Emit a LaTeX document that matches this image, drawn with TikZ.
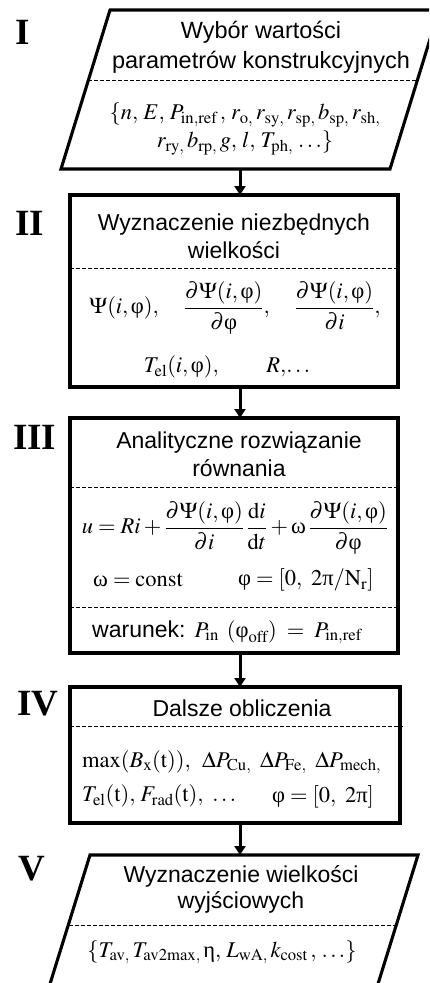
\documentclass[tikz,border=0pt]{standalone}
\usepackage{mathptmx}
\usepackage[no-math]{fontspec}
\setmainfont{Liberation Sans}
\newfontfamily\tm{Liberation Serif}
\usetikzlibrary{arrows.meta}

% upright Greek letters taken from the serif text font
\newcommand\gr[1]{\mbox{\tm #1}}
\newcommand\vphi{\gr{φ}}
\newcommand\om{\gr{ω}}
\newcommand\uppi{\gr{π}}
\newcommand\ueta{\gr{η}}

\tikzset{
  frame/.style={line width=3.1pt, line join=miter},
  sep/.style={line width=0.8pt, dash pattern=on 4pt off 2pt},
  flow/.style={line width=3pt, -{Triangle[length=9pt,width=11pt]}},
  heading/.style={font=\fontsize{23}{28}\selectfont, align=center, inner sep=0pt},
  mathrow/.style={font=\fontsize{22.5}{28}\selectfont, align=center, inner sep=0pt},
  numeral/.style={font=\fontsize{37}{40}\selectfont\tm\bfseries, anchor=west, inner sep=0pt}
}

\begin{document}
\begin{tikzpicture}[x=1pt,y=-1pt]
\path[use as bounding box] (0,0) rectangle (429,983);
\clip (0,0) rectangle (429,983);

% ---------- I: input parallelogram ----------
\draw[frame] (110,10) -- (439,10) -- (390,169) -- (61,169) -- cycle;
\draw[sep] (88,80) -- (418,80);
\node[numeral] (nI) at (15,32) {I};
\node[heading, font=\fontsize{23.5}{30}\selectfont] (tI) at (261,47) {Wybór wartości\\parametrów konstrukcyjnych};
\node[mathrow] (fI) at (245,129)
  {$\{n,\,E,\,P_{\mathrm{in,ref}}\,,\,r_{\mathrm{o},}\,r_{\mathrm{sy},}\,r_{\mathrm{sp},}\,b_{\mathrm{sp},}\,r_{\mathrm{sh},}$\\
   $r_{\mathrm{ry},}\,b_{\mathrm{rp},}\,g,\,l,\,T_{\mathrm{ph},}\,\ldots\}$};
\coordinate (Ibot) at (240,169);

% ---------- II ----------
\draw[frame] (70,195) rectangle (398,387);
\draw[sep] (70,268) -- (398,268);
\coordinate (IItop) at (240,195);
\coordinate (IIbot) at (240,387);
\node[numeral] (nII) at (15,223) {II};
\node[heading] (tII) at (234,236) {Wyznaczenie niezbędnych\\wielkości};
\node[mathrow] (fII) at (235,308)
  {$\Psi(i,\vphi),\quad \displaystyle\frac{\partial\Psi(i,\vphi)}{\partial\vphi},\quad \frac{\partial\Psi(i,\vphi)}{\partial i},$};
\node[mathrow] (gII) at (227,367) {$T_{\mathrm{el}}(i,\vphi),\qquad R,\!\ldots$};

% ---------- III ----------
\draw[frame] (70,418) rectangle (398,653);
\draw[sep] (70,487) -- (398,487);
\draw[sep] (70,607) -- (398,607);
\coordinate (IIItop) at (240,418);
\coordinate (IIIbot) at (240,653);
\node[numeral] (nIII) at (13,437) {III};
\node[heading] (tIII) at (239,454) {Analityczne rozwiązanie\\równania};
\node[mathrow] (fIII) at (235,528)
  {$\displaystyle u = Ri + \frac{\partial\Psi(i,\vphi)}{\partial i}\,\frac{\mathrm{d}i}{\mathrm{d}t} + \om\,\frac{\partial\Psi(i,\vphi)}{\partial\vphi}$};
\node[mathrow, anchor=west] (cIII) at (93,580) {$\om = \mathrm{const}$};
\node[mathrow, anchor=west] (rIII) at (238,580) {$\vphi = [0,\ 2\uppi/\mathrm{N}_{\mathrm{r}}]$};
\node[heading, anchor=west] (wIII) at (92,632)
  {warunek:\hspace{9pt}{\fontsize{22.5}{28}\selectfont$P_{\mathrm{in}}\hspace{8pt}(\vphi_{\mathrm{off}})\hspace{5pt}=\hspace{5pt}P_{\mathrm{in,ref}}$}};

% ---------- IV ----------
\draw[frame] (70,687) rectangle (400,823);
\draw[sep] (70,726) -- (403,726);
\coordinate (IVtop) at (240,687);
\coordinate (IVbot) at (240,823);
\node[numeral] (nIV) at (17,704) {IV};
\node[heading] (tIV) at (242,708) {Dalsze obliczenia};
\node[mathrow, anchor=west] (fIV) at (82,762)
  {$\max(B_{\mathrm{x}}(\mathrm{t})),\ \,\Delta P_{\mathrm{Cu},}\ \,\Delta P_{\mathrm{Fe},}\ \,\Delta P_{\mathrm{mech},}$};
\node[mathrow, anchor=west] (gIV) at (82,796)
  {$T_{\mathrm{el}}(\mathrm{t}),\,F_{\mathrm{rad}}(\mathrm{t}),\ \ldots$};
\node[mathrow, anchor=west] (rIV) at (272,797) {$\vphi = [0,\ 2\uppi]$};

% ---------- V: output parallelogram ----------
\draw[frame] (90,855) -- (418,855) -- (373,1000) -- (45,1000) -- cycle;
\draw[sep] (69,925) -- (396,925);
\coordinate (Vtop) at (240,855);
\node[numeral] (nV) at (18,869) {V};
\node[heading, font=\fontsize{23}{26}\selectfont] (tV) at (241,889) {Wyznaczenie wielkości\\wyjściowych};
\node[mathrow] (fV) at (222,952)
  {$\{T_{\mathrm{av},}\,T_{\mathrm{av2max},}\,\ueta,\,L_{\mathrm{wA},}\,k_{\mathrm{cost}}\,,\,\ldots\}$};

% ---------- connectors ----------
\draw[flow] (Ibot) -- (IItop);
\draw[flow] (IIbot) -- (IIItop);
\draw[flow] (IIIbot) -- (IVtop);
\draw[flow] (IVbot) -- (Vtop);
\end{tikzpicture}
\end{document}
